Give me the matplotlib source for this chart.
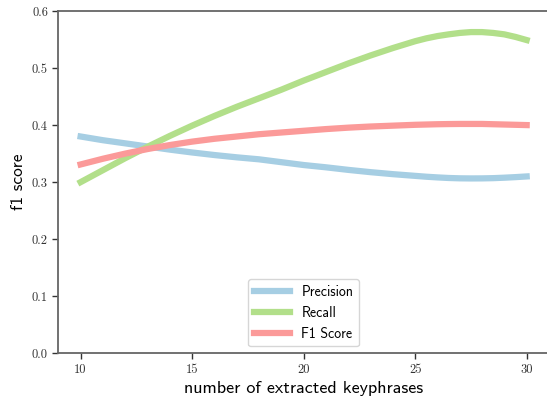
import matplotlib
matplotlib.use("Agg")
import matplotlib.pyplot as plt

# number of extracted keyphrases (finer steps near the end, where the curves bend)
k = [10, 11, 12, 13, 14, 15, 16, 17, 18, 19, 20, 21, 22, 23, 24, 25,
     25.5, 26, 26.5, 27, 27.5, 28, 28.5, 29, 29.5, 30]

precision = [0.380, 0.3735, 0.368, 0.3625, 0.357, 0.352, 0.3475, 0.3435, 0.340, 0.335, 0.330,
             0.326, 0.3215, 0.3175, 0.314, 0.311,
             0.3095, 0.3083, 0.3073, 0.3067, 0.3065, 0.3066, 0.307, 0.3078, 0.3088, 0.310]
recall = [0.300, 0.321, 0.342, 0.362, 0.381, 0.399, 0.416, 0.432, 0.447, 0.462, 0.478,
          0.493, 0.508, 0.522, 0.535, 0.547,
          0.552, 0.556, 0.559, 0.5615, 0.563, 0.563, 0.5615, 0.559, 0.5545, 0.549]
f1 = [0.331, 0.341, 0.350, 0.358, 0.365, 0.371, 0.376, 0.380, 0.384, 0.387, 0.390,
      0.393, 0.3955, 0.3975, 0.399, 0.4005,
      0.401, 0.4015, 0.4018, 0.402, 0.402, 0.402, 0.4015, 0.401, 0.4005, 0.400]

xticks = [10, 15, 20, 25, 30]
yticks = [0.0, 0.1, 0.2, 0.3, 0.4, 0.5, 0.6]

fig = plt.figure(figsize=(5.47, 3.99), dpi=100)
ax = fig.add_axes([0.1066, 0.1145, 0.897, 0.858])

ax.plot(k, precision, color="#a6cee3", lw=4.5, label="Precision")
ax.plot(k, recall, color="#b2df8a", lw=4.5, label="Recall")
ax.plot(k, f1, color="#fb9a99", lw=4.5, label="F1 Score")

ax.set_xlim(9, 31)
ax.set_ylim(0, 0.6)
ax.set_xticks(xticks)
ax.set_yticks(yticks)
ax.set_xticklabels([str(v) for v in xticks])
ax.set_yticklabels([f"{v:.1f}" for v in yticks])
ax.tick_params(labelfontfamily="cmr10", labelsize=9, length=4, width=1,
               color="#333333", labelcolor="#333333")

for side in ["left", "bottom", "top"]:
    ax.spines[side].set_color("#666666")
    ax.spines[side].set_linewidth(1.3)
ax.spines["right"].set_visible(False)

ax.set_xlabel("number of extracted keyphrases", fontfamily="cmss10", fontsize=13)
ax.set_ylabel("f1 score", fontfamily="cmss10", fontsize=12.5)

ax.legend(loc="lower center", prop={"family": "cmss10", "size": 10}, handlelength=2.6)

fig.savefig("out.png", dpi=100)
